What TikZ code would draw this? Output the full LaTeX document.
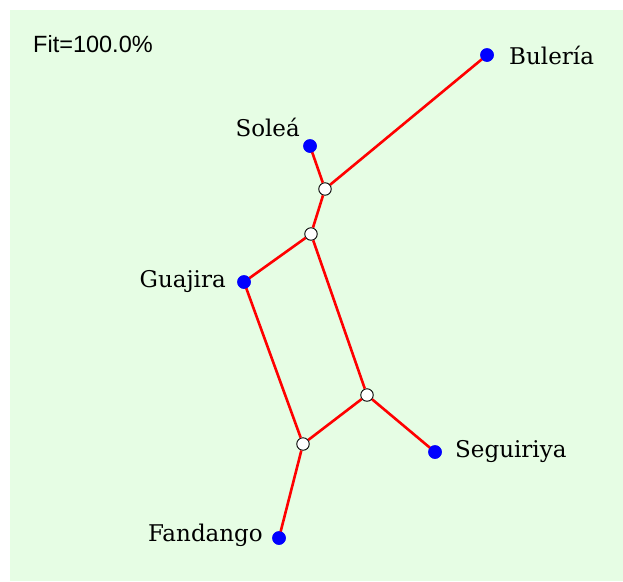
\documentclass[tikz,border=0pt]{standalone}
\usepackage{fontspec}
\setmainfont{DejaVu Serif}
\newfontfamily\fitfont{Liberation Sans}
\begin{document}
\begin{tikzpicture}[x=1pt,y=-1pt,
  leaf/.style={circle,fill=blue,inner sep=0pt,minimum size=13.5pt},
  junc/.style={circle,draw=black,line width=0.9pt,fill=white,inner sep=0pt,minimum size=12.5pt},
  edge/.style={red,line width=2.6pt},
  lbl/.style={font=\fontsize{23}{27}\selectfont,inner sep=0pt}]
\useasboundingbox (0,0) rectangle (623,581);
\fill[fill={rgb,255:red,230;green,253;blue,228}] (10,10) rectangle (623,581);
\node[anchor=west,inner sep=0pt,font=\fitfont\fontsize{23.5}{27}\selectfont] (fit) at (33,44) {Fit=100.0\%};
\node[leaf] (bul) at (487,55) {};
\node[leaf] (sol) at (310,146) {};
\node[leaf] (gua) at (244,282) {};
\node[leaf] (seg) at (435,452) {};
\node[leaf] (fan) at (279,538) {};
\node[junc] (j1) at (325,189) {};
\node[junc] (j2) at (311,234) {};
\node[junc] (j3) at (367,395) {};
\node[junc] (j4) at (303,444) {};
\draw[edge] (bul.center) -- (j1) (sol.center) -- (j1) (j1) -- (j2) (j2) -- (gua.center)
  (j2) -- (j3) (j3) -- (seg.center) (j3) -- (j4) (j4) -- (gua.center) (j4) -- (fan.center);
\node[leaf] at (bul) {};
\node[leaf] at (sol) {};
\node[leaf] at (gua) {};
\node[leaf] at (seg) {};
\node[leaf] at (fan) {};
\node[lbl,anchor=west] (lbul) at (509,55) {Bulería};
\node[lbl,anchor=east] (lsol) at (300,127) {Soleá};
\node[lbl,anchor=east] (lgua) at (226,282) {Guajira};
\node[lbl,anchor=west] (lseg) at (455,452) {Seguiriya};
\node[lbl,anchor=east] (lfan) at (263,535) {Fandango};
\end{tikzpicture}
\end{document}
